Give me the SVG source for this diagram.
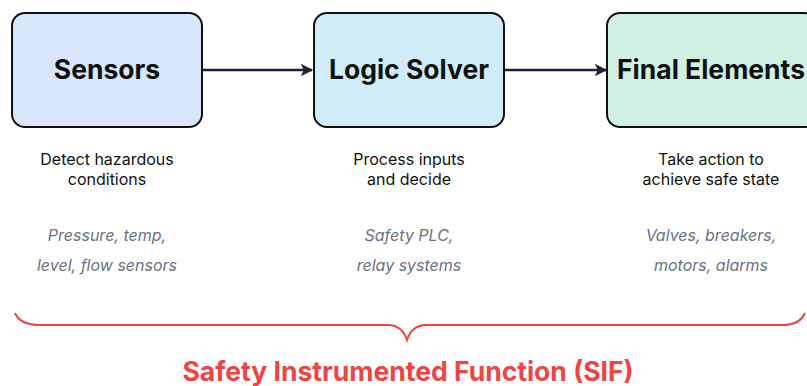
<svg xmlns="http://www.w3.org/2000/svg" width="807" height="386" viewBox="0 0 807 386">
<style>
.box{stroke:#111;stroke-width:2}
.title{font-family:Inter,"Liberation Sans",sans-serif;font-weight:700;font-size:26.5px;fill:#111;text-anchor:middle}
.desc{font-family:Inter,"Liberation Sans",sans-serif;font-size:16px;fill:#111;text-anchor:middle}
.ex{font-family:Inter,"Liberation Sans",sans-serif;font-style:italic;font-size:16px;fill:#6b7280;text-anchor:middle}
.conn{stroke:#1e2235;stroke-width:2.5;fill:none}
</style>
<defs>
<marker id="ah" viewBox="0 0 10 10" refX="9" refY="5" markerWidth="5" markerHeight="5" orient="auto" markerUnits="strokeWidth">
<path d="M0,0 L10,5 L0,10 L2.5,5 z" fill="#1e2235"/>
</marker>
</defs>
<rect width="807" height="386" fill="#fff"/>
<g id="connectors">
<line class="conn" x1="203" y1="70" x2="312" y2="70" marker-end="url(#ah)"/>
<line class="conn" x1="505" y1="70" x2="606" y2="70" marker-end="url(#ah)"/>
</g>
<g id="sensors">
<rect class="box" x="12" y="13" width="190" height="114" rx="13" fill="#d8e6fb"/>
<text class="title" x="107" y="79">Sensors</text>
<text class="desc" x="107" y="165">Detect hazardous</text>
<text class="desc" x="107" y="185">conditions</text>
<text class="ex" x="107" y="241">Pressure, temp,</text>
<text class="ex" x="107" y="271">level, flow sensors</text>
</g>
<g id="logic-solver">
<rect class="box" x="314" y="13" width="190" height="114" rx="13" fill="#d1ecf9"/>
<text class="title" x="409" y="79">Logic Solver</text>
<text class="desc" x="409" y="165">Process inputs</text>
<text class="desc" x="409" y="185">and decide</text>
<text class="ex" x="409" y="241">Safety PLC,</text>
<text class="ex" x="409" y="271">relay systems</text>
</g>
<g id="final-elements">
<rect class="box" x="607" y="13" width="210" height="114" rx="13" fill="#d1f0e4"/>
<text class="title" x="711" y="79">Final Elements</text>
<text class="desc" x="711" y="165">Take action to</text>
<text class="desc" x="711" y="185">achieve safe state</text>
<text class="ex" x="711" y="241">Valves, breakers,</text>
<text class="ex" x="711" y="271">motors, alarms</text>
</g>
<g id="sif">
<path d="M15,313 Q20,325 40,325 L388,325 Q402,325 407,340 Q412,325 426,325 L782,325 Q800,325 805,313" fill="none" stroke="#ef4444" stroke-width="2"/>
<text x="408" y="381" font-family="Inter,'Liberation Sans',sans-serif" font-weight="700" font-size="26.5" fill="#ef4444" text-anchor="middle">Safety Instrumented Function (SIF)</text>
</g>
</svg>
